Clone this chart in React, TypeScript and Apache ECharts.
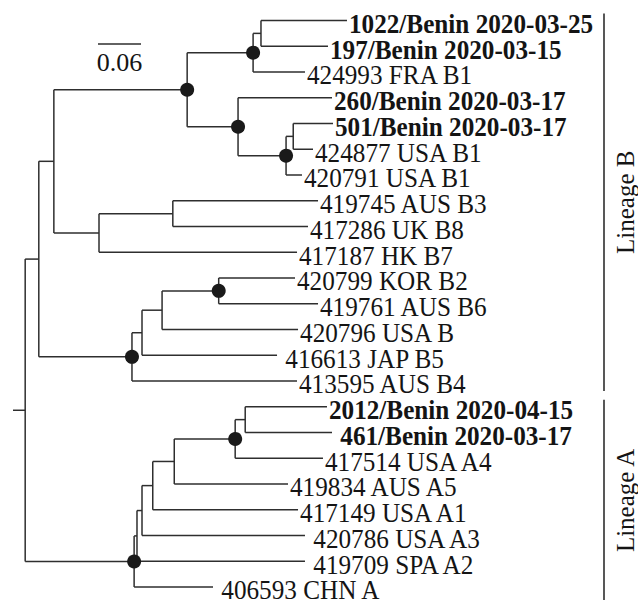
import React, { useEffect, useRef } from 'react';
import * as echarts from 'echarts';

// ---------- data ----------
const leafLabels = [
  '1022/Benin 2020-03-25',
  '197/Benin 2020-03-15',
  '424993 FRA B1',
  '260/Benin 2020-03-17',
  '501/Benin 2020-03-17',
  '424877 USA B1',
  '420791 USA B1',
  '419745 AUS B3',
  '417286 UK B8',
  '417187 HK B7',
  '420799 KOR B2',
  '419761 AUS B6',
  '420796 USA B',
  ' 416613 JAP B5',
  '413595 AUS B4',
  '2012/Benin 2020-04-15',
  ' 461/Benin 2020-03-17',
  '417514 USA A4',
  '419834 AUS A5',
  '417149 USA A1',
  ' 420786 USA A3',
  ' 419709 SPA A2',
  ' 406593 CHN A',
];
const leafBold = [1, 1, 0, 1, 1, 0, 0, 0, 0, 0, 0, 0, 0, 0, 0, 1, 1, 0, 0, 0, 0, 0, 0];
const leafDepths = [
  0.466, 0.4395, 0.4074, 0.4451, 0.4465, 0.4186, 0.4032, 0.4256, 0.4116, 0.3963,
  0.3935, 0.4256, 0.3977, 0.3684, 0.3963, 0.4381, 0.4451, 0.4325, 0.3837, 0.3977,
  0.4074, 0.4074, 0.2791,
];
const leafParents = [
  'nB1a1a', 'nB1a1a', 'nB1a1', 'nB1a2', 'nB1a2a1', 'nB1a2a1', 'nB1a2a', 'nB1b1', 'nB1b1', 'nB1b',
  'nB2a1a', 'nB2a1a', 'nB2a1', 'nB2a', 'nB2', 'nA1a1a1a', 'nA1a1a1a', 'nA1a1a1', 'nA1a1a', 'nA1a1',
  'nA1a', 'nA1', 'nA',
];
const nodeIds = [
  'root', 'nB', 'nB1', 'nB1a', 'nB1a1', 'nB1a1a', 'nB1a2', 'nB1a2a', 'nB1a2a1', 'nB1b', 'nB1b1',
  'nB2', 'nB2a', 'nB2a1', 'nB2a1a', 'nA', 'nA1', 'nA1a', 'nA1a1', 'nA1a1a', 'nA1a1a1', 'nA1a1a1a',
];
const nodeParents = [
  null, 'root', 'nB', 'nB1', 'nB1a', 'nB1a1', 'nB1a', 'nB1a2', 'nB1a2a', 'nB1', 'nB1b',
  'nB', 'nB2', 'nB2a', 'nB2a1', 'root', 'nA', 'nA1', 'nA1a', 'nA1a1', 'nA1a1a', 'nA1a1a1',
];
const nodeDepths = [
  0.017, 0.036, 0.057, 0.243, 0.335, 0.346, 0.314, 0.381, 0.391, 0.12, 0.223,
  0.166, 0.18, 0.208, 0.287, 0.169, 0.173, 0.18, 0.195, 0.225, 0.31, 0.324,
];
const supportedNodes = ['nB1a', 'nB1a1', 'nB1a2', 'nB1a2a', 'nB2a1a', 'nB2', 'nA1a1a1', 'nA'];
const lineageNames = ['Lineage B', 'Lineage A'];
const lineageFirstLeaf = [0, 15];
const lineageLastLeaf = [14, 22];
const scaleBarLength = 0.06;
const scaleBarLabel = '0.06';

// ---------- layout / style ----------
const W = 638;
const H = 600;
const PX_PER_UNIT = 716.7;
const X_MAX = 0.8;
const GRID_LEFT = 13;
const GRID_TOP = 20.5;
const GRID_H = 566.5;
const LINE = '#2e2e2e';
const INK = '#141414';
const LW = 1.5;
const FONT = "'Liberation Serif', 'Times New Roman', serif";
const LABEL_SIZE = 28;
const LABEL_SCALE_X = 0.9;
const LINEAGE_X = 604;
const SCALE_BAR_START = 0.1186;
const SCALE_BAR_Y = 44;

type Row = number[];

function buildTree() {
  const yOf: Record<string, number> = {};
  const kids: Record<string, number[]> = {};
  nodeIds.forEach((id) => (kids[id] = []));
  leafParents.forEach((p, i) => kids[p].push(i));
  const childNodes: Record<string, string[]> = {};
  nodeIds.forEach((id) => (childNodes[id] = []));
  nodeParents.forEach((p, i) => {
    if (p) childNodes[p].push(nodeIds[i]);
  });
  const span: Record<string, [number, number]> = {};
  const calc = (id: string): number => {
    const ys: number[] = kids[id].map((i) => i);
    childNodes[id].forEach((c) => ys.push(calc(c)));
    const lo = Math.min(...ys);
    const hi = Math.max(...ys);
    span[id] = [lo, hi];
    yOf[id] = (lo + hi) / 2;
    return yOf[id];
  };
  calc('root');
  const depthOf: Record<string, number> = {};
  nodeIds.forEach((id, i) => (depthOf[id] = nodeDepths[i]));

  const rows: Row[] = [];
  // [depth, y, parentDepth, yMin, yMax, isLeaf, leafIndex]
  nodeIds.forEach((id, i) => {
    const p = nodeParents[i];
    rows.push([nodeDepths[i], yOf[id], p ? depthOf[p] : 0, span[id][0], span[id][1], 0, -1]);
  });
  leafDepths.forEach((d, i) => {
    rows.push([d, i, depthOf[leafParents[i]], i, i, 1, i]);
  });
  const dots = supportedNodes.map((id) => [depthOf[id], yOf[id]]);
  return { rows, dots };
}

export default function App() {
  const ref = useRef<HTMLDivElement>(null);
  useEffect(() => {
    if (!ref.current) return;
    const chart = echarts.init(ref.current, undefined, { renderer: 'svg' });
    const { rows, dots } = buildTree();
    const lineStyle = { stroke: LINE, lineWidth: LW };

    chart.setOption({
      animation: false,
      backgroundColor: '#ffffff',
      grid: { left: GRID_LEFT, top: GRID_TOP, width: X_MAX * PX_PER_UNIT, height: GRID_H },
      xAxis: { type: 'value', min: 0, max: X_MAX, show: false },
      yAxis: { type: 'value', min: 0, max: leafLabels.length - 1, inverse: true, show: false },
      series: [
        {
          type: 'custom',
          clip: false,
          data: rows,
          renderItem: (params: any, api: any) => {
            const d = api.value(0);
            const y = api.value(1);
            const pd = api.value(2);
            const y0 = api.value(3);
            const y1 = api.value(4);
            const isLeaf = api.value(5);
            const li = api.value(6);
            const p = api.coord([d, y]);
            const pp = api.coord([pd, y]);
            const children: any[] = [
              { type: 'line', shape: { x1: pp[0], y1: p[1], x2: p[0], y2: p[1] }, style: lineStyle },
            ];
            if (!isLeaf) {
              const a = api.coord([d, y0]);
              const b = api.coord([d, y1]);
              children.push({ type: 'line', shape: { x1: a[0], y1: a[1], x2: b[0], y2: b[1] }, style: lineStyle });
            } else {
              children.push({
                type: 'text',
                x: p[0] + 2,
                y: p[1] + 3,
                scaleX: LABEL_SCALE_X,
                style: {
                  text: leafLabels[li],
                  fontFamily: FONT,
                  fontSize: LABEL_SIZE,
                  fontWeight: leafBold[li] ? 'bold' : 'normal',
                  fill: INK,
                  align: 'left',
                  verticalAlign: 'middle',
                },
              });
            }
            return { type: 'group', children };
          },
          z: 2,
        },
        {
          type: 'scatter',
          data: dots,
          symbol: 'circle',
          symbolSize: 14,
          itemStyle: { color: '#1a1a1a', opacity: 1 },
          z: 3,
          silent: true,
        },
        {
          type: 'custom',
          clip: false,
          data: lineageNames.map((_, i) => [lineageFirstLeaf[i], lineageLastLeaf[i]]),
          renderItem: (params: any, api: any) => {
            const i = params.dataIndex;
            const top = api.coord([0, api.value(0)])[1] - 7;
            const bot = api.coord([0, api.value(1)])[1] + (i === lineageNames.length - 1 ? 14 : 10);
            const mid = (top + bot) / 2;
            return {
              type: 'group',
              children: [
                { type: 'line', shape: { x1: LINEAGE_X, y1: top, x2: LINEAGE_X, y2: bot }, style: { stroke: LINE, lineWidth: 1.6 } },
                {
                  type: 'text',
                  x: LINEAGE_X + 21,
                  y: mid,
                  rotation: Math.PI / 2,
                  style: {
                    text: lineageNames[i],
                    fontFamily: FONT,
                    fontSize: 25,
                    fill: INK,
                    align: 'center',
                    verticalAlign: 'middle',
                  },
                },
              ],
            };
          },
        },
        {
          type: 'custom',
          clip: false,
          data: [[SCALE_BAR_START, scaleBarLength]],
          renderItem: (params: any, api: any) => {
            const x0 = api.coord([api.value(0), 0])[0];
            const x1 = api.coord([api.value(0) + api.value(1), 0])[0];
            return {
              type: 'group',
              children: [
                { type: 'line', shape: { x1: x0, y1: SCALE_BAR_Y, x2: x1, y2: SCALE_BAR_Y }, style: { stroke: LINE, lineWidth: 1.4 } },
                {
                  type: 'text',
                  x: (x0 + x1) / 2,
                  y: SCALE_BAR_Y + 18,
                  style: {
                    text: scaleBarLabel,
                    fontFamily: FONT,
                    fontSize: 26,
                    fill: INK,
                    align: 'center',
                    verticalAlign: 'middle',
                  },
                },
              ],
            };
          },
        },
      ],
    });
    return () => chart.dispose();
  }, []);
  return (
    <div
      ref={ref}
      style={{ position: 'absolute', left: 0, top: 0, width: W, height: H, background: '#fff' }}
    />
  );
}
